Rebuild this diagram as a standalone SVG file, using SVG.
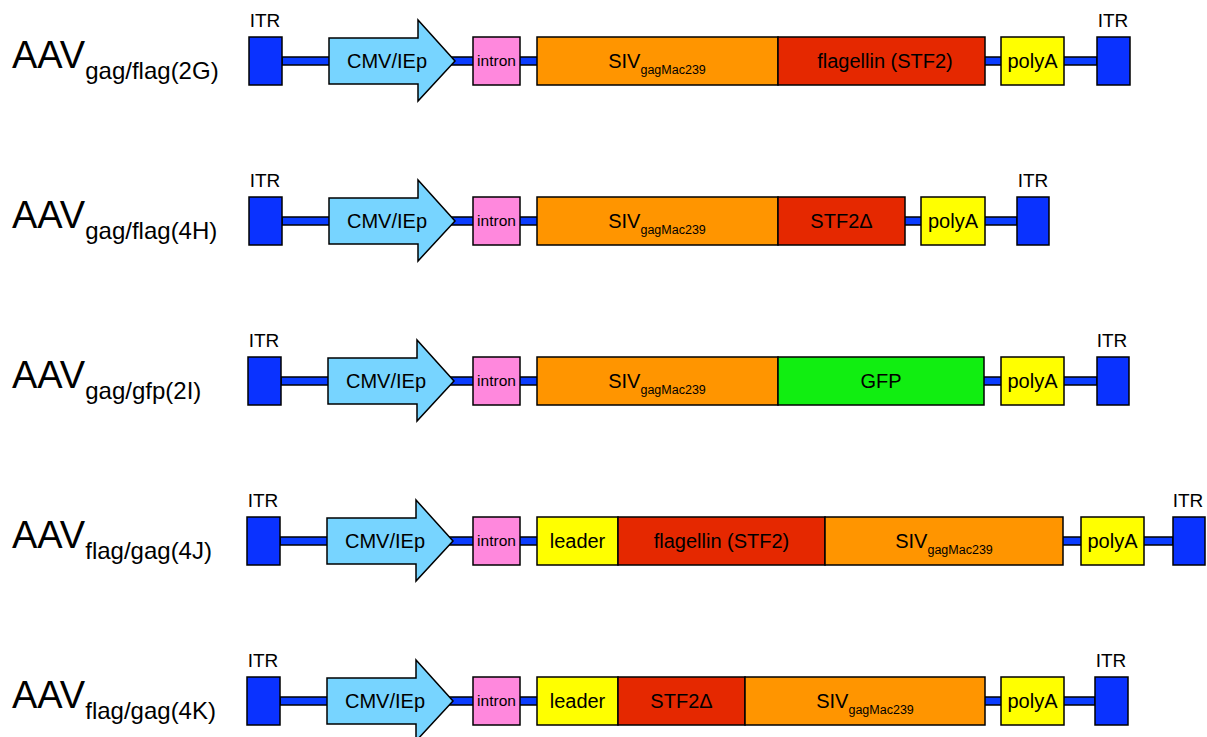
<svg xmlns="http://www.w3.org/2000/svg" width="1207" height="737" viewBox="0 0 1207 737">
<style>
text{font-family:"Liberation Sans",Arial,sans-serif;fill:#000}
.bx{stroke:#000;stroke-width:1.5}
.itr{fill:#0a32ff}
.cmv{fill:#77d4ff}
.intron{fill:#ff88dd}
.siv{fill:#ff9500}
.flag{fill:#e52800}
.yel{fill:#ffff00}
.gfp{fill:#11ee11}
.bar{fill:#0a3cff;stroke:#000;stroke-width:1.5}
.lbl{font-size:20px;text-anchor:middle}
.itrl{font-size:19px;text-anchor:middle}
.intl{font-size:15.5px;text-anchor:middle}
.big{font-size:38px}
.sub{font-size:24px}
.ss{font-size:12.5px}
</style>
<g id="connectors">
<rect class="bar" x="282" y="57" width="815" height="8"/>
<rect class="bar" x="282" y="217" width="735" height="8"/>
<rect class="bar" x="281" y="377" width="816" height="8"/>
<rect class="bar" x="280" y="537" width="893" height="8"/>
<rect class="bar" x="280" y="697" width="815" height="8"/>
</g>
<g id="row1">
<text x="12" y="68" class="big">AAV<tspan class="sub" dy="11">gag/flag(2G)</tspan></text>
<text x="265" y="27" class="itrl">ITR</text>
<rect class="bx itr" x="249" y="37" width="33" height="48"/>
<path class="bx cmv" d="M329,38 H418 V20 L455,61 L418,101 V84 H329 Z"/>
<text x="387" y="68" class="lbl">CMV/IEp</text>
<rect class="bx intron" x="473" y="37" width="47" height="48"/>
<text x="496.5" y="66" class="intl">intron</text>
<rect class="bx siv" x="537" y="37" width="241" height="48"/>
<text x="657" y="68" class="lbl">SIV<tspan class="ss" dy="6">gagMac239</tspan></text>
<rect class="bx flag" x="778" y="37" width="207" height="48"/>
<text x="885" y="68" class="lbl">flagellin (STF2)</text>
<rect class="bx yel" x="1001" y="37" width="63" height="48"/>
<text x="1032.5" y="68" class="lbl">polyA</text>
<rect class="bx itr" x="1097" y="37" width="33" height="48"/>
<text x="1113" y="27" class="itrl">ITR</text>
</g>
<g id="row2">
<text x="12" y="228" class="big">AAV<tspan class="sub" dy="11">gag/flag(4H)</tspan></text>
<text x="265" y="187" class="itrl">ITR</text>
<rect class="bx itr" x="249" y="197" width="33" height="48"/>
<path class="bx cmv" d="M329,198 H418 V180 L455,221 L418,261 V244 H329 Z"/>
<text x="387" y="228" class="lbl">CMV/IEp</text>
<rect class="bx intron" x="473" y="197" width="47" height="48"/>
<text x="496.5" y="226" class="intl">intron</text>
<rect class="bx siv" x="537" y="197" width="241" height="48"/>
<text x="657" y="228" class="lbl">SIV<tspan class="ss" dy="6">gagMac239</tspan></text>
<rect class="bx flag" x="778" y="197" width="127" height="48"/>
<text x="841.5" y="228" class="lbl">STF2Δ</text>
<rect class="bx yel" x="921" y="197" width="64" height="48"/>
<text x="953" y="228" class="lbl">polyA</text>
<rect class="bx itr" x="1017" y="197" width="32" height="48"/>
<text x="1033" y="187" class="itrl">ITR</text>
</g>
<g id="row3">
<text x="12" y="388" class="big">AAV<tspan class="sub" dy="11">gag/gfp(2I)</tspan></text>
<text x="264" y="347" class="itrl">ITR</text>
<rect class="bx itr" x="248" y="357" width="33" height="48"/>
<path class="bx cmv" d="M328,358 H417 V340 L454,381 L417,421 V404 H328 Z"/>
<text x="386" y="388" class="lbl">CMV/IEp</text>
<rect class="bx intron" x="473" y="357" width="47" height="48"/>
<text x="496.5" y="386" class="intl">intron</text>
<rect class="bx siv" x="537" y="357" width="241" height="48"/>
<text x="657" y="388" class="lbl">SIV<tspan class="ss" dy="6">gagMac239</tspan></text>
<rect class="bx gfp" x="778" y="357" width="206" height="48"/>
<text x="881" y="388" class="lbl">GFP</text>
<rect class="bx yel" x="1001" y="357" width="63" height="48"/>
<text x="1032.5" y="388" class="lbl">polyA</text>
<rect class="bx itr" x="1097" y="357" width="32" height="48"/>
<text x="1112" y="347" class="itrl">ITR</text>
</g>
<g id="row4">
<text x="12" y="548" class="big">AAV<tspan class="sub" dy="11">flag/gag(4J)</tspan></text>
<text x="263" y="507" class="itrl">ITR</text>
<rect class="bx itr" x="247" y="517" width="33" height="48"/>
<path class="bx cmv" d="M327,518 H416 V500 L453,541 L416,581 V564 H327 Z"/>
<text x="385" y="548" class="lbl">CMV/IEp</text>
<rect class="bx intron" x="473" y="517" width="47" height="48"/>
<text x="496.5" y="546" class="intl">intron</text>
<rect class="bx yel" x="537" y="517" width="81" height="48"/>
<text x="577.5" y="548" class="lbl">leader</text>
<rect class="bx flag" x="618" y="517" width="207" height="48"/>
<text x="721.5" y="548" class="lbl">flagellin (STF2)</text>
<rect class="bx siv" x="825" y="517" width="238" height="48"/>
<text x="944" y="548" class="lbl">SIV<tspan class="ss" dy="6">gagMac239</tspan></text>
<rect class="bx yel" x="1081" y="517" width="63" height="48"/>
<text x="1112.5" y="548" class="lbl">polyA</text>
<rect class="bx itr" x="1173" y="517" width="32" height="48"/>
<text x="1188" y="507" class="itrl">ITR</text>
</g>
<g id="row5">
<text x="12" y="708" class="big">AAV<tspan class="sub" dy="11">flag/gag(4K)</tspan></text>
<text x="263" y="667" class="itrl">ITR</text>
<rect class="bx itr" x="247" y="677" width="33" height="48"/>
<path class="bx cmv" d="M327,678 H416 V660 L453,701 L416,741 V724 H327 Z"/>
<text x="385" y="708" class="lbl">CMV/IEp</text>
<rect class="bx intron" x="473" y="677" width="47" height="48"/>
<text x="496.5" y="706" class="intl">intron</text>
<rect class="bx yel" x="537" y="677" width="81" height="48"/>
<text x="577.5" y="708" class="lbl">leader</text>
<rect class="bx flag" x="618" y="677" width="127" height="48"/>
<text x="681.5" y="708" class="lbl">STF2Δ</text>
<rect class="bx siv" x="745" y="677" width="240" height="48"/>
<text x="865" y="708" class="lbl">SIV<tspan class="ss" dy="6">gagMac239</tspan></text>
<rect class="bx yel" x="1001" y="677" width="63" height="48"/>
<text x="1032.5" y="708" class="lbl">polyA</text>
<rect class="bx itr" x="1095" y="677" width="33" height="48"/>
<text x="1111" y="667" class="itrl">ITR</text>
</g>
</svg>
